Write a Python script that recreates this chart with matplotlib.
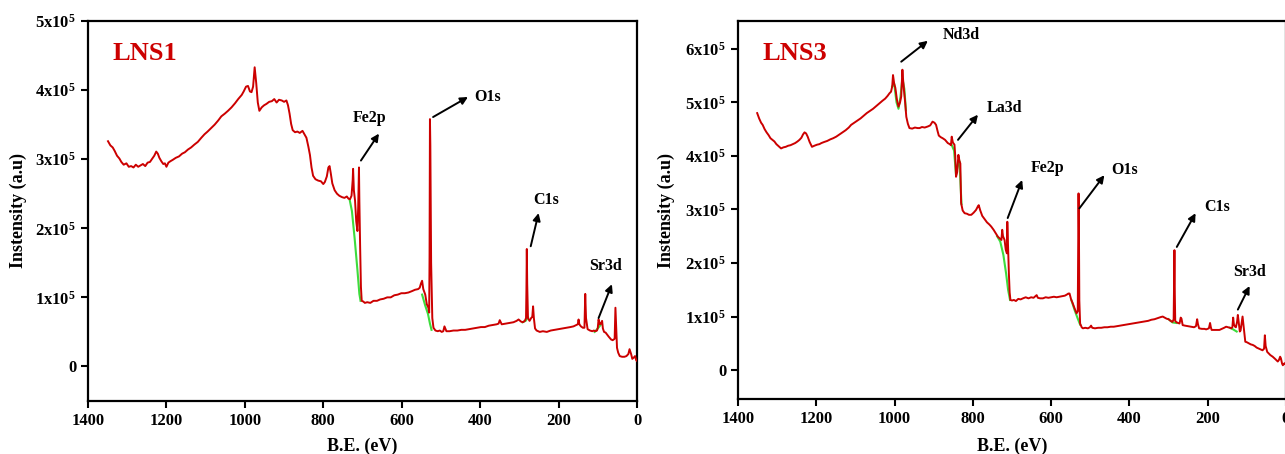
import matplotlib
matplotlib.use("Agg")
import matplotlib.pyplot as plt
import numpy as np

plt.rcParams['font.family'] = ['Liberation Serif', 'DejaVu Serif']
plt.rcParams['font.weight'] = 'bold'
plt.rcParams['mathtext.default'] = 'regular'

# ---- LNS1 survey spectrum (B.E. in eV, intensity in 1e5 counts) ----
lns1_be = [1349, 1343, 1337, 1332, 1326, 1320, 1315, 1309, 1302, 1296, 1290, 1284, 1278, 1272, 1266,
           1260, 1254, 1248, 1242, 1236, 1231, 1226, 1222, 1218, 1213, 1208, 1204, 1200, 1195, 1190,
           1184, 1176, 1168, 1160, 1153, 1145, 1137, 1129, 1120, 1111, 1103, 1095, 1086, 1077, 1068,
           1060, 1051, 1043, 1034, 1025, 1017, 1008, 1003, 997, 992, 987, 983, 979, 975, 971, 967,
           963, 957, 951, 945, 938, 931, 925, 919, 913, 906, 900, 894, 890, 886, 882, 878, 872, 866,
           860, 853, 848, 843, 838, 834, 830, 826, 820, 813, 806, 800, 796, 791, 787, 784, 781, 777,
           771, 765, 759, 752, 746, 740, 736, 732, 728, 725, 724, 722, 719, 716, 713, 711, 709, 708,
           706, 704, 702, 698, 694, 688, 680, 672, 663, 655, 646, 637, 628, 619, 610, 601, 592, 583,
           574, 566, 558, 554, 551, 548, 545, 540, 536, 532, 530, 529, 528, 527, 525, 522, 519, 514,
           508, 503, 498, 494, 491, 486, 478, 468, 458, 448, 438, 428, 418, 408, 398, 388, 378, 368,
           358, 353, 350, 345, 335, 325, 315, 307, 302, 296, 291, 286, 283, 282, 281, 280, 278, 274,
           270, 267, 265, 263, 260, 256, 248, 240, 230, 220, 210, 200, 190, 180, 170, 162, 155, 151,
           149, 147, 143, 138, 134, 132, 130, 126, 120, 114, 110, 106, 102, 100, 98, 95, 92, 89, 87,
           84, 80, 76, 72, 66, 62, 57, 55, 53, 51, 48, 44, 38, 32, 27, 22, 19, 15, 12, 8, 5, 2, 0]
lns1_int = [3.26, 3.20, 3.17, 3.12, 3.05, 3.01, 2.96, 2.92, 2.94, 2.89, 2.90, 2.88, 2.92, 2.89, 2.91,
            2.93, 2.90, 2.95, 2.96, 3.01, 3.05, 3.11, 3.08, 3.02, 2.97, 2.93, 2.94, 2.89, 2.95, 2.97,
            2.99, 3.02, 3.04, 3.08, 3.10, 3.14, 3.17, 3.21, 3.25, 3.31, 3.36, 3.40, 3.45, 3.50, 3.56,
            3.62, 3.66, 3.70, 3.75, 3.81, 3.87, 3.93, 3.98, 4.05, 4.06, 3.98, 3.97, 4.05, 4.33, 4.10,
            3.82, 3.70, 3.75, 3.78, 3.80, 3.83, 3.84, 3.87, 3.82, 3.86, 3.85, 3.83, 3.85, 3.78, 3.66,
            3.51, 3.42, 3.39, 3.40, 3.38, 3.41, 3.36, 3.31, 3.18, 3.06, 2.88, 2.76, 2.71, 2.69, 2.68,
            2.64, 2.67, 2.75, 2.88, 2.90, 2.80, 2.65, 2.55, 2.50, 2.47, 2.45, 2.44, 2.46, 2.43, 2.42,
            2.47, 2.70, 2.86, 2.55, 2.40, 2.10, 1.96, 2.30, 2.88, 2.40, 1.72, 1.15, 0.95, 0.94, 0.92,
            0.93, 0.92, 0.95, 0.95, 0.97, 0.98, 1.00, 1.00, 1.03, 1.04, 1.06, 1.06, 1.07, 1.09, 1.11,
            1.12, 1.14, 1.20, 1.24, 1.12, 1.04, 0.90, 0.85, 0.78, 1.60, 3.58, 3.20, 1.50, 0.70, 0.56,
            0.52, 0.51, 0.52, 0.50, 0.51, 0.58, 0.51, 0.51, 0.52, 0.52, 0.53, 0.53, 0.54, 0.55, 0.56,
            0.57, 0.57, 0.59, 0.60, 0.61, 0.62, 0.67, 0.61, 0.62, 0.63, 0.64, 0.66, 0.68, 0.65, 0.64,
            0.66, 0.70, 1.10, 1.70, 1.20, 0.70, 0.66, 0.70, 0.72, 0.87, 0.70, 0.55, 0.52, 0.50, 0.51,
            0.50, 0.52, 0.53, 0.54, 0.55, 0.56, 0.57, 0.58, 0.60, 0.61, 0.68, 0.61, 0.58, 0.56, 0.56,
            1.05, 0.70, 0.54, 0.52, 0.51, 0.52, 0.51, 0.52, 0.56, 0.68, 0.61, 0.62, 0.66, 0.55, 0.50,
            0.49, 0.46, 0.43, 0.39, 0.38, 0.40, 0.85, 0.55, 0.27, 0.20, 0.15, 0.14, 0.14, 0.15, 0.18,
            0.25, 0.18, 0.11, 0.13, 0.15, 0.09, 0.08]

# Shirley-type backgrounds (green) for LNS1
lns1_bg = [
    ([733, 727, 720, 713, 708, 705], [2.42, 2.25, 1.85, 1.40, 1.05, 0.95]),
    ([548, 540, 533, 528, 524], [1.04, 0.88, 0.76, 0.62, 0.53]),
    ([292, 284, 278], [0.64, 0.66, 0.71]),
    ([108, 100, 93], [0.50, 0.55, 0.60]),
]

# ---- LNS3 survey spectrum ----
lns3_be = [1351, 1346, 1341, 1337, 1332, 1327, 1322, 1317, 1312, 1307, 1302, 1296, 1290, 1284, 1278,
           1272, 1266, 1260, 1254, 1248, 1243, 1238, 1234, 1230, 1226, 1222, 1217, 1211, 1205, 1198,
           1192, 1187, 1180, 1172, 1164, 1157, 1149, 1141, 1133, 1125, 1117, 1111, 1103, 1095, 1087,
           1079, 1071, 1063, 1055, 1047, 1039, 1031, 1024, 1018, 1013, 1009, 1006, 1004, 1001, 998,
           994, 990, 986, 983, 981, 980, 978, 976, 973, 970, 966, 962, 955, 948, 941, 936, 930, 923,
           915, 909, 903, 898, 894, 890, 887, 882, 877, 871, 864, 859, 856, 854, 851, 847, 845, 843,
           840, 837, 834, 832, 830, 826, 821, 815, 810, 804, 798, 792, 787, 785, 781, 776, 770, 764,
           758, 753, 747, 741, 736, 730, 727, 725, 723, 719, 716, 713, 712, 710, 708, 706, 704, 700,
           695, 690, 684, 678, 672, 665, 658, 651, 645, 640, 637, 634, 628, 621, 614, 607, 600, 593,
           586, 579, 572, 565, 560, 556, 553, 549, 545, 540, 535, 532, 531, 530, 529, 528, 526, 522,
           519, 513, 506, 501, 498, 495, 488, 480, 472, 464, 456, 448, 440, 432, 424, 416, 408, 400,
           392, 384, 376, 368, 360, 352, 344, 336, 328, 320, 315, 310, 305, 300, 295, 290, 287, 285,
           284, 283, 281, 276, 272, 269, 267, 264, 258, 250, 242, 235, 230, 227, 225, 222, 215, 208,
           204, 197, 194, 192, 190, 184, 176, 170, 164, 158, 153, 148, 143, 140, 137, 135, 133, 130,
           128, 125, 123, 121, 118, 116, 113, 111, 108, 104, 100, 95, 90, 85, 80, 75, 72, 66, 60, 56,
           54, 52, 48, 44, 40, 34, 28, 24, 21, 18, 15, 13, 10, 8, 5, 3, 0]
lns3_int = [4.80, 4.70, 4.62, 4.58, 4.50, 4.44, 4.39, 4.33, 4.30, 4.27, 4.22, 4.18, 4.14, 4.16, 4.17,
            4.19, 4.20, 4.22, 4.24, 4.27, 4.30, 4.34, 4.40, 4.44, 4.42, 4.36, 4.26, 4.17, 4.19, 4.21,
            4.22, 4.24, 4.26, 4.28, 4.31, 4.33, 4.36, 4.40, 4.44, 4.48, 4.53, 4.58, 4.62, 4.66, 4.70,
            4.75, 4.80, 4.84, 4.88, 4.93, 4.98, 5.03, 5.07, 5.12, 5.17, 5.20, 5.30, 5.51, 5.35, 5.27,
            5.05, 4.92, 5.00, 5.11, 5.45, 5.61, 5.40, 5.23, 5.00, 4.73, 4.60, 4.52, 4.51, 4.53, 4.52,
            4.52, 4.54, 4.53, 4.55, 4.57, 4.64, 4.62, 4.58, 4.46, 4.38, 4.35, 4.33, 4.30, 4.24, 4.22,
            4.20, 4.36, 4.25, 4.21, 4.00, 3.61, 3.70, 4.02, 3.90, 3.86, 3.12, 2.98, 2.93, 2.92, 2.90,
            2.90, 2.94, 2.99, 3.06, 3.08, 2.98, 2.88, 2.82, 2.76, 2.72, 2.68, 2.62, 2.55, 2.49, 2.45,
            2.43, 2.62, 2.50, 2.43, 2.25, 2.18, 2.77, 2.30, 1.81, 1.45, 1.31, 1.30, 1.31, 1.29, 1.33,
            1.32, 1.34, 1.36, 1.34, 1.36, 1.35, 1.38, 1.40, 1.35, 1.34, 1.34, 1.36, 1.35, 1.36, 1.37,
            1.36, 1.37, 1.38, 1.39, 1.41, 1.43, 1.43, 1.32, 1.25, 1.15, 1.06, 1.10, 2.20, 3.30, 2.60,
            1.30, 0.87, 0.80, 0.78, 0.79, 0.78, 0.80, 0.83, 0.79, 0.78, 0.79, 0.79, 0.80, 0.80, 0.81,
            0.81, 0.82, 0.83, 0.84, 0.85, 0.86, 0.87, 0.88, 0.89, 0.90, 0.91, 0.92, 0.94, 0.95, 0.97,
            0.99, 1.00, 0.98, 0.96, 0.95, 0.92, 0.90, 0.95, 2.24, 1.40, 0.92, 0.90, 0.88, 0.87, 0.98,
            0.96, 0.84, 0.83, 0.82, 0.81, 0.80, 0.82, 0.95, 0.86, 0.78, 0.77, 0.77, 0.76, 0.78, 0.88,
            0.80, 0.75, 0.75, 0.75, 0.75, 0.77, 0.79, 0.81, 0.80, 0.79, 0.78, 0.80, 0.98, 0.85, 0.81,
            0.80, 0.90, 1.03, 0.90, 0.72, 0.74, 0.90, 1.00, 0.80, 0.53, 0.52, 0.50, 0.48, 0.47, 0.45,
            0.42, 0.41, 0.39, 0.37, 0.40, 0.65, 0.45, 0.34, 0.31, 0.28, 0.25, 0.21, 0.18, 0.16, 0.19,
            0.25, 0.22, 0.12, 0.09, 0.12, 0.13, 0.10]

lns3_bg = [
    ([1006, 1001, 995, 990, 985, 980, 975, 971], [5.30, 5.35, 5.00, 4.88, 5.10, 5.45, 5.25, 4.85]),
    ([855, 848, 843, 838, 834, 831, 829], [4.22, 4.10, 3.65, 3.85, 3.90, 3.40, 3.10]),
    ([738, 730, 722, 715, 710, 705], [2.50, 2.40, 2.15, 1.80, 1.50, 1.31]),
    ([548, 540, 533, 526], [1.30, 1.12, 0.98, 0.85]),
    ([300, 290, 280], [0.95, 0.89, 0.88]),
    ([143, 135, 126], [0.79, 0.76, 0.72]),
]

# peak labels: (text, text_x, text_y, arrow_tail, arrow_head)
lns1_labels = [
    ("Fe2p", 681, 3.60, (704, 2.98), (658, 3.37)),
    ("O1s", 382, 3.90, (520, 3.61), (431, 3.90)),
    ("C1s", 232, 2.41, (271, 1.74), (251, 2.22)),
    ("Sr3d", 81, 1.45, (98, 0.70), (64, 1.19)),
]
lns3_labels = [
    ("Nd3d", 830, 6.26, (983, 5.76), (915, 6.15)),
    ("La3d", 719, 4.90, (838, 4.30), (787, 4.77)),
    ("Fe2p", 609, 3.77, (711, 2.84), (674, 3.55)),
    ("O1s", 413, 3.73, (528, 3.02), (464, 3.64)),
    ("C1s", 177, 3.05, (279, 2.30), (231, 2.93)),
    ("Sr3d", 92, 1.83, (123, 1.13), (93, 1.57)),
]

RED = "#cc0000"
GREEN = "#3ddc3d"
SCALE = 1e5


def draw_panel(ax, be, inten, bgs, labels, name, ymax_ticks, ylim):
    for bx, by in bgs:
        ax.plot(bx, np.array(by) * SCALE, color=GREEN, lw=1.5, zorder=2)
    ax.plot(be, np.array(inten) * SCALE, color=RED, lw=1.4, zorder=3)
    for txt, tx, ty, tail, head in labels:
        ax.annotate("", xy=(head[0], head[1] * SCALE), xytext=(tail[0], tail[1] * SCALE),
                    arrowprops=dict(arrowstyle="-|>", color="black", lw=1.4, mutation_scale=11,
                                    shrinkA=0, shrinkB=0))
        ax.text(tx, ty * SCALE, txt, ha="center", va="center", fontsize=11.5, fontweight="bold")
    ax.text(0.045, 0.915, name, transform=ax.transAxes, color=RED, fontsize=19,
            fontweight="bold", ha="left", va="center")
    ax.set_xlim(1400, 0)
    ax.set_ylim(*ylim)
    ax.set_xticks(range(1400, -1, -200))
    yt = [i * SCALE for i in range(ymax_ticks + 1)]
    ax.set_yticks(yt)
    ax.set_yticklabels(["0"] + [f"{i}x10$^{{5}}$" for i in range(1, ymax_ticks + 1)])
    ax.tick_params(direction="out", length=5, width=1.5, labelsize=12)
    for lab in ax.get_xticklabels() + ax.get_yticklabels():
        lab.set_fontweight("bold")
    for sp in ax.spines.values():
        sp.set_linewidth(1.6)
    ax.set_xlabel("B.E. (eV)", fontsize=13, fontweight="bold")
    ax.set_ylabel("Instensity (a.u)", fontsize=13, fontweight="bold")


fig = plt.figure(figsize=(12.85, 4.54), dpi=100)
ax1 = fig.add_axes([88 / 1285, 53 / 454, 549 / 1285, 380 / 454])
ax2 = fig.add_axes([738 / 1285, 55 / 454, 548 / 1285, 378 / 454])

draw_panel(ax1, lns1_be, lns1_int, lns1_bg, lns1_labels, "LNS1", 5, (-0.5e5, 5e5))
draw_panel(ax2, lns3_be, lns3_int, lns3_bg, lns3_labels, "LNS3", 6, (-0.54e5, 6.52e5))

ax1.xaxis.set_label_coords(0.5, -0.097)
ax1.yaxis.set_label_coords(-0.111, 0.5)
ax2.xaxis.set_label_coords(0.5, -0.103)
ax2.yaxis.set_label_coords(-0.115, 0.5)

fig.savefig("out.png", dpi=100)
